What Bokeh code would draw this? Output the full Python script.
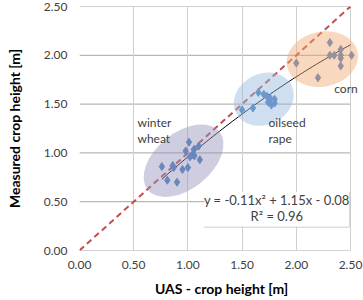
import numpy as np
from bokeh.plotting import figure
from bokeh.models import Range1d, FixedTicker, PrintfTickFormatter, Label, BoxAnnotation
from bokeh.embed import file_html
from bokeh.resources import INLINE

# UAS-derived vs. measured crop heights [m]
wheat_uas = [1.01, 0.98, 1.06, 1.04, 1.06, 1.11, 1.02, 1.00, 0.95, 0.86, 0.87, 0.76, 0.81, 0.90, 1.10]
wheat_meas = [1.11, 1.02, 1.04, 0.98, 0.97, 0.93, 0.96, 0.85, 0.83, 0.87, 0.85, 0.86, 0.72, 0.70, 1.07]

rape_uas = [1.70, 1.65, 1.73, 1.76, 1.80, 1.74, 1.77, 1.80, 1.60, 1.50]
rape_meas = [1.60, 1.62, 1.58, 1.56, 1.55, 1.52, 1.49, 1.51, 1.46, 1.44]

corn_uas = [2.31, 2.00, 2.31, 2.35, 2.41, 2.41, 2.41, 2.51, 2.41, 2.20]
corn_meas = [2.13, 1.92, 2.00, 2.00, 2.06, 2.00, 1.97, 2.00, 1.89, 1.77]

# quadratic trend line coefficients (a*x^2 + b*x + c) and its fit quality
trend_coef = [-0.11, 1.15, -0.08]
r_squared = 0.96

ticks = [0.0, 0.5, 1.0, 1.5, 2.0, 2.5]

FONT = "Lato"
GREY_TXT = "#404040"
AXIS_MAX = 2.5

# the frame runs a little past 2.5 on the right so that shapes and labels
# near the corner are not cut off; gridlines still stop at 2.5
p = figure(width=363, height=300, output_backend="svg", toolbar_location=None,
           x_range=Range1d(0, 2.62), y_range=Range1d(0, AXIS_MAX),
           min_border_left=79, min_border_right=0, min_border_top=6, min_border_bottom=50)
p.outline_line_color = None
p.background_fill_color = "white"

for ax in (p.xaxis[0], p.yaxis[0]):
    ax.ticker = FixedTicker(ticks=ticks)
    ax.formatter = PrintfTickFormatter(format="%.2f")
    ax.major_tick_out = 0
    ax.major_tick_in = 0
    ax.minor_tick_out = 0
    ax.minor_tick_in = 0
    ax.axis_line_color = None
    ax.major_label_text_font = FONT
    ax.major_label_text_font_size = "12px"
    ax.major_label_text_color = GREY_TXT
    ax.axis_label_text_font = FONT
    ax.axis_label_text_font_style = "bold"
    ax.axis_label_text_font_size = "14px"
    ax.axis_label_text_color = "black"

p.xaxis.axis_label = "UAS - crop height [m]"
p.yaxis.axis_label = "Measured crop height [m]"
p.xaxis.major_label_standoff = 10
p.xaxis.axis_label_standoff = 8
p.yaxis.major_label_standoff = 12
p.yaxis.axis_label_standoff = 18

p.xgrid.grid_line_color = "#cfcfcf"
p.xgrid.ticker = FixedTicker(ticks=ticks)
p.ygrid.grid_line_color = None
# horizontal gridlines, limited to the axis extent
p.segment(x0=[0] * len(ticks), x1=[AXIS_MAX] * len(ticks), y0=ticks, y1=ticks,
          line_color="#a6a6a6", line_width=1, level="underlay")

# 1:1 reference line
p.line([0, AXIS_MAX], [0, AXIS_MAX], line_color="#c0504d", line_width=2, line_dash="6 4")

# quadratic trend line
xs = np.linspace(min(wheat_uas), AXIS_MAX, 60)
a, b, c = trend_coef
p.line(xs, a * xs ** 2 + b * xs + c, line_color="black", line_width=1)

all_x = wheat_uas + rape_uas + corn_uas
all_y = wheat_meas + rape_meas + corn_meas
p.scatter(all_x, all_y, marker="diamond", size=8, fill_color="#4a7cc0", line_color="#4a7cc0")

# translucent crop group highlights on top of the points
p.ellipse(x=[0.96], y=[0.92], width=[92], height=[56], angle=[0.68],
          width_units="screen", height_units="screen",
          fill_color="#9490ba", fill_alpha=0.45, line_color=None)
p.ellipse(x=[1.70], y=[1.55], width=[62], height=[51], angle=[0.45],
          width_units="screen", height_units="screen",
          fill_color="#97b8de", fill_alpha=0.45, line_color=None)
p.ellipse(x=[2.24], y=[1.96], width=[72], height=[55], angle=[0.2],
          width_units="screen", height_units="screen",
          fill_color="#efab73", fill_alpha=0.45, line_color=None)

# crop labels
for txt, x, y in [("winter", 0.535, 1.31), ("wheat", 0.535, 1.15),
                  ("oilseed", 1.744, 1.31), ("rape", 1.744, 1.15),
                  ("corn", 2.35, 1.66)]:
    p.add_layout(Label(x=x, y=y, text=txt, text_font=FONT, text_font_size="12px",
                       text_color=GREY_TXT, text_baseline="middle", text_align="left"))

# equation box
p.add_layout(BoxAnnotation(left=1.153, right=2.49, bottom=0.244, top=0.60,
                           fill_color="white", fill_alpha=1.0, line_color=None))
p.line([1.153, 2.49], [0.244, 0.244], line_color="#bfbfbf", line_width=1.5)
p.line([2.49, 2.49], [0.244, 0.60], line_color="#bfbfbf", line_width=1.5)
eq = f"y = {a:.2f}x\u00b2 + {b:.2f}x - {abs(c):.2f}"
p.add_layout(Label(x=1.82, y=0.52, text=eq, text_font=FONT, text_font_size="13px",
                   text_color=GREY_TXT, text_align="center", text_baseline="middle"))
p.add_layout(Label(x=1.82, y=0.355, text=f"R\u00b2 = {r_squared:.2f}", text_font=FONT,
                   text_font_size="13px", text_color=GREY_TXT,
                   text_align="center", text_baseline="middle"))

open("out.html", "w").write(file_html(p, INLINE))
